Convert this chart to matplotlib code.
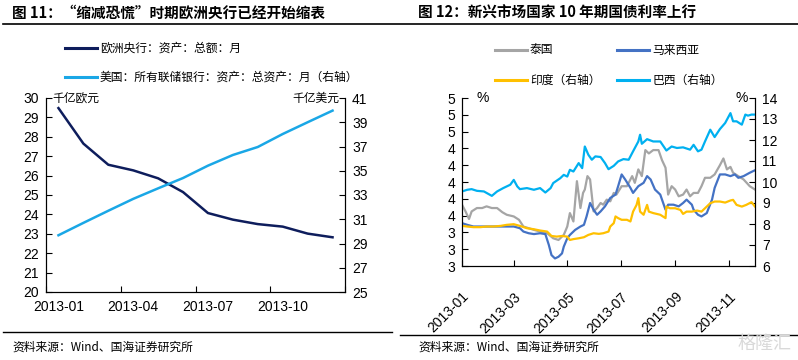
import numpy as np
import pandas as pd
import matplotlib
matplotlib.use('Agg')
import matplotlib.pyplot as plt
import matplotlib.dates as mdates
from matplotlib.lines import Line2D
from matplotlib.ticker import FuncFormatter

plt.rcParams['font.family'] = ['Liberation Sans', 'Noto Sans CJK SC']
CJK = ['Noto Sans CJK SC', 'Liberation Sans']

# ---- 图11 数据 (月度) ----
months = ['2013-01', '2013-02', '2013-03', '2013-04', '2013-05', '2013-06',
          '2013-07', '2013-08', '2013-09', '2013-10', '2013-11', '2013-12']
ecb_assets = [29.48, 27.65, 26.56, 26.27, 25.86, 25.15, 24.07, 23.73, 23.50, 23.37, 23.01, 22.82]
fed_assets = [29.68, 30.70, 31.70, 32.68, 33.55, 34.40, 35.42, 36.30, 36.96, 38.03, 39.00, 39.96]

# ---- 图12 数据 (从2013-01-01起的天数, 收益率%) ----
brazil_days = [0, 6, 11, 17, 25, 34, 40, 47, 55, 59, 63, 66, 74, 82, 89, 95, 101, 104, 112, 116,
               120, 123, 127, 133, 137, 140, 144, 148, 152, 158, 163, 167, 173, 178, 184, 190, 195, 201, 203, 205,
               211, 218, 226, 233, 239, 245, 252, 260, 264, 269, 273, 277, 283, 288, 294, 300, 306, 309, 313, 319,
               323, 326, 330, 334]
brazil = [9.55, 9.63, 9.66, 9.58, 9.55, 9.34, 9.55, 9.71, 9.87, 10.10,
          9.79, 9.66, 9.71, 9.63, 9.71, 9.50, 9.71, 9.95, 10.18, 10.34,
          10.26, 10.58, 10.50, 10.90, 10.66, 11.69, 11.30, 11.06, 11.22, 11.19,
          10.90, 10.61, 10.77, 10.98, 11.09, 11.06, 11.46, 11.93, 12.25, 11.82,
          12.04, 11.93, 11.93, 11.50, 11.69, 11.62, 11.65, 11.54, 11.77, 11.46,
          11.54, 11.93, 12.49, 12.14, 12.52, 12.81, 13.28, 12.89, 12.89, 12.73,
          13.21, 13.16, 13.21, 13.21]

thai_days = [0, 4, 8, 11, 17, 23, 28, 34, 40, 46, 51, 59, 65, 70, 76, 82, 89, 97, 104, 110,
             116, 120, 123, 127, 131, 135, 138, 140, 143, 146, 150, 154, 158, 161, 165, 169, 173, 176, 182, 188,
             194, 197, 201, 205, 209, 213, 218, 224, 228, 232, 235, 239, 243, 247, 252, 256, 260, 264, 269, 273,
             277, 283, 288, 294, 298, 302, 306, 309, 315, 321, 328, 334]
thailand = [3.73, 3.65, 3.56, 3.65, 3.69, 3.69, 3.71, 3.69, 3.69, 3.64,
            3.61, 3.59, 3.55, 3.47, 3.45, 3.43, 3.41, 3.39, 3.33, 3.31,
            3.37, 3.47, 3.63, 3.53, 4.01, 3.69, 3.87, 3.91, 4.07, 4.03,
            3.65, 3.69, 3.75, 3.73, 3.79, 3.77, 3.87, 3.85, 3.95, 3.95,
            4.07, 3.99, 4.15, 4.07, 4.38, 4.34, 4.38, 4.38, 4.26, 4.17,
            3.85, 3.95, 3.91, 3.83, 3.85, 3.91, 3.83, 3.87, 3.87, 3.95,
            4.05, 4.05, 4.09, 4.20, 4.28, 4.15, 4.18, 4.11, 4.07, 4.03,
            3.95, 3.91]

malay_days = [0, 6, 13, 21, 28, 36, 44, 51, 59, 66, 70, 76, 82, 89, 95, 99, 102, 106, 110, 114,
              116, 120, 123, 129, 135, 139, 142, 146, 150, 154, 158, 163, 169, 175, 178, 182, 186, 192, 195, 201,
              207, 211, 215, 220, 226, 232, 235, 241, 247, 252, 256, 262, 264, 269, 273, 279, 285, 288, 294, 300,
              306, 311, 315, 321, 328, 334]
malaysia = [3.51, 3.49, 3.47, 3.47, 3.47, 3.47, 3.47, 3.47, 3.47, 3.45,
            3.41, 3.39, 3.38, 3.39, 3.38, 3.25, 3.13, 3.09, 3.11, 3.15,
            3.23, 3.33, 3.37, 3.43, 3.47, 3.49, 3.59, 3.75, 3.67, 3.61,
            3.65, 3.71, 3.81, 3.85, 3.95, 4.09, 4.03, 3.93, 3.87, 3.95,
            3.99, 4.07, 4.03, 3.91, 3.85, 3.67, 3.73, 3.73, 3.71, 3.75,
            3.79, 3.73, 3.67, 3.61, 3.59, 3.63, 3.79, 3.93, 4.09, 4.09,
            4.07, 4.09, 4.05, 4.07, 4.11, 4.14]

india_days = [0, 6, 13, 21, 28, 36, 44, 51, 59, 66, 74, 82, 89, 97, 102, 108, 114, 120, 123, 127,
              133, 139, 144, 150, 156, 161, 167, 169, 173, 175, 178, 182, 188, 192, 195, 199, 201, 203, 207, 211,
              213, 218, 226, 232, 233, 237, 243, 249, 252, 256, 262, 268, 273, 277, 283, 288, 294, 300, 306, 309,
              313, 319, 324, 330, 334]
india = [7.91, 7.88, 7.85, 7.85, 7.88, 7.88, 7.91, 7.96, 7.99, 7.91,
         7.80, 7.75, 7.69, 7.64, 7.43, 7.40, 7.43, 7.40, 7.24, 7.28,
         7.32, 7.37, 7.48, 7.56, 7.53, 7.56, 7.64, 7.88, 8.04, 8.36,
         8.28, 8.20, 8.20, 8.12, 8.59, 8.91, 9.23, 8.59, 8.44, 8.91,
         8.59, 8.52, 8.44, 8.28, 8.83, 8.75, 8.75, 8.67, 8.48, 8.59,
         8.59, 8.64, 8.59, 8.75, 8.99, 9.07, 9.07, 9.02, 9.12, 9.15,
         8.91, 8.83, 8.91, 9.04, 8.83]

start = pd.Timestamp('2013-01-01')


def to_dates(days):
    return start + pd.to_timedelta(days, unit='D')


W, H = 798, 360


def fx(x):
    return x / W


def fy(y):
    return 1 - y / H


fig = plt.figure(figsize=(W / 100, H / 100), dpi=100)

# 分隔线
fig.add_artist(Line2D([fx(3), fx(798)], [fy(24), fy(24)], color='black', lw=1.2))
fig.add_artist(Line2D([fx(3), fx(392)], [fy(332), fy(332)], color='black', lw=1.0))
fig.add_artist(Line2D([fx(400), fx(798)], [fy(335), fy(335)], color='black', lw=1.0))

# 标题
fig.text(fx(12), fy(13), '图 11：“缩减恐慌”时期欧洲央行已经开始缩表', fontsize=10.5,
         fontweight='bold', family=CJK, va='center', ha='left')
fig.text(fx(418), fy(13), '图 12：新兴市场国家 10 年期国债利率上行', fontsize=10.5,
         fontweight='bold', family=CJK, va='center', ha='left')
fig.text(fx(12), fy(347), '资料来源：Wind、国海证券研究所', fontsize=8.5, family=CJK, va='center')
fig.text(fx(418), fy(347), '资料来源：Wind、国海证券研究所', fontsize=8.5, family=CJK, va='center')
fig.text(fx(792), fy(344), '格隆汇', fontsize=13, family=CJK, va='center', ha='right',
         color='#d9d9d9')

c_ecb = '#0E1D5C'
c_fed = '#1AA7E6'
c_thai = '#A5A5A5'
c_malay = '#4472C4'
c_india = '#FFC000'
c_brazil = '#00B0F0'


def legend_item(x, y, color, label):
    fig.add_artist(Line2D([fx(x), fx(x + 32)], [fy(y), fy(y)], color=color, lw=2.2))
    fig.text(fx(x + 35), fy(y), label, fontsize=8.5, family=CJK, va='center', ha='left')


legend_item(65, 48, c_ecb, '欧洲央行：资产：总额：月')
legend_item(65, 77, c_fed, '美国：所有联储银行：资产：总资产：月（右轴）')
legend_item(495, 50, c_thai, '泰国')
legend_item(617, 50, c_malay, '马来西亚')
legend_item(495, 80, c_india, '印度（右轴）')
legend_item(617, 80, c_brazil, '巴西（右轴）')

# ---- 图11 ----
ax1 = fig.add_axes([fx(46), fy(292), fx(345 - 46), (292 - 98) / H])
x = np.arange(len(months))
ax1.plot(x, ecb_assets, color=c_ecb, lw=1.8)
ax1.set_xlim(-0.5, len(months) - 0.5)
ax1.set_ylim(20, 30)
ax1.set_yticks(range(20, 31))
ax1.set_xticks(np.arange(-0.5, len(months), 3))
ax1.set_xticklabels([])
ax1.set_xticks(x[::3], minor=True)
ax1.set_xticklabels(months[::3], minor=True)
ax1.tick_params(axis='x', which='major', direction='in', length=4)
ax1.tick_params(axis='x', which='minor', length=0, labelsize=10, pad=6)
ax1.tick_params(axis='y', direction='in', length=4, labelsize=10, pad=5)
ax1.spines['top'].set_visible(False)

ax1b = ax1.twinx()
ax1b.plot(x, fed_assets, color=c_fed, lw=1.8)
ax1b.set_ylim(25, 41)
ax1b.set_yticks(range(25, 42, 2))
ax1b.tick_params(axis='y', direction='in', length=4, labelsize=10, pad=5)
ax1b.spines['top'].set_visible(False)
ax1.text(0.02, 1.0, '千亿欧元', transform=ax1.transAxes, fontsize=8.5, family=CJK,
         va='center', ha='left')
ax1.text(0.98, 1.0, '千亿美元', transform=ax1.transAxes, fontsize=8.5, family=CJK,
         va='center', ha='right')

# ---- 图12 ----
ax2 = fig.add_axes([fx(462), fy(266), fx(755 - 462), (266 - 98) / H])
ax2.plot(to_dates(thai_days), thailand, color=c_thai, lw=1.6)
ax2.plot(to_dates(malay_days), malaysia, color=c_malay, lw=1.6)
ax2.set_ylim(3, 5)
ax2.set_yticks(np.arange(3, 5.01, 0.2))
ax2.yaxis.set_major_formatter(FuncFormatter(lambda v, p: f'{v:.0f}'))
ax2.set_xlim(pd.Timestamp('2013-01-01'), pd.Timestamp('2013-12-01'))
ax2.xaxis.set_major_locator(mdates.MonthLocator(bymonth=[1, 3, 5, 7, 9, 11]))
ax2.xaxis.set_major_formatter(mdates.DateFormatter('%Y-%m'))
ax2.tick_params(axis='x', direction='in', length=4, labelsize=10, pad=17)
ax2.tick_params(axis='y', direction='in', length=4, labelsize=10, pad=5)
for lbl in ax2.get_xticklabels():
    lbl.set_rotation(45)
    lbl.set_ha('right')
    lbl.set_rotation_mode('anchor')
ax2.spines['top'].set_visible(False)

ax2b = ax2.twinx()
ax2b.plot(to_dates(india_days), india, color=c_india, lw=1.6)
ax2b.plot(to_dates(brazil_days), brazil, color=c_brazil, lw=1.6)
ax2b.set_ylim(6, 14)
ax2b.set_yticks(range(6, 15))
ax2b.tick_params(axis='y', direction='in', length=4, labelsize=10, pad=5)
ax2b.spines['top'].set_visible(False)
ax2.text(0.05, 1.0, '%', transform=ax2.transAxes, fontsize=10, va='center', ha='left')
ax2.text(0.975, 1.0, '%', transform=ax2.transAxes, fontsize=10, va='center', ha='right')

fig.savefig('out.png', dpi=100)
